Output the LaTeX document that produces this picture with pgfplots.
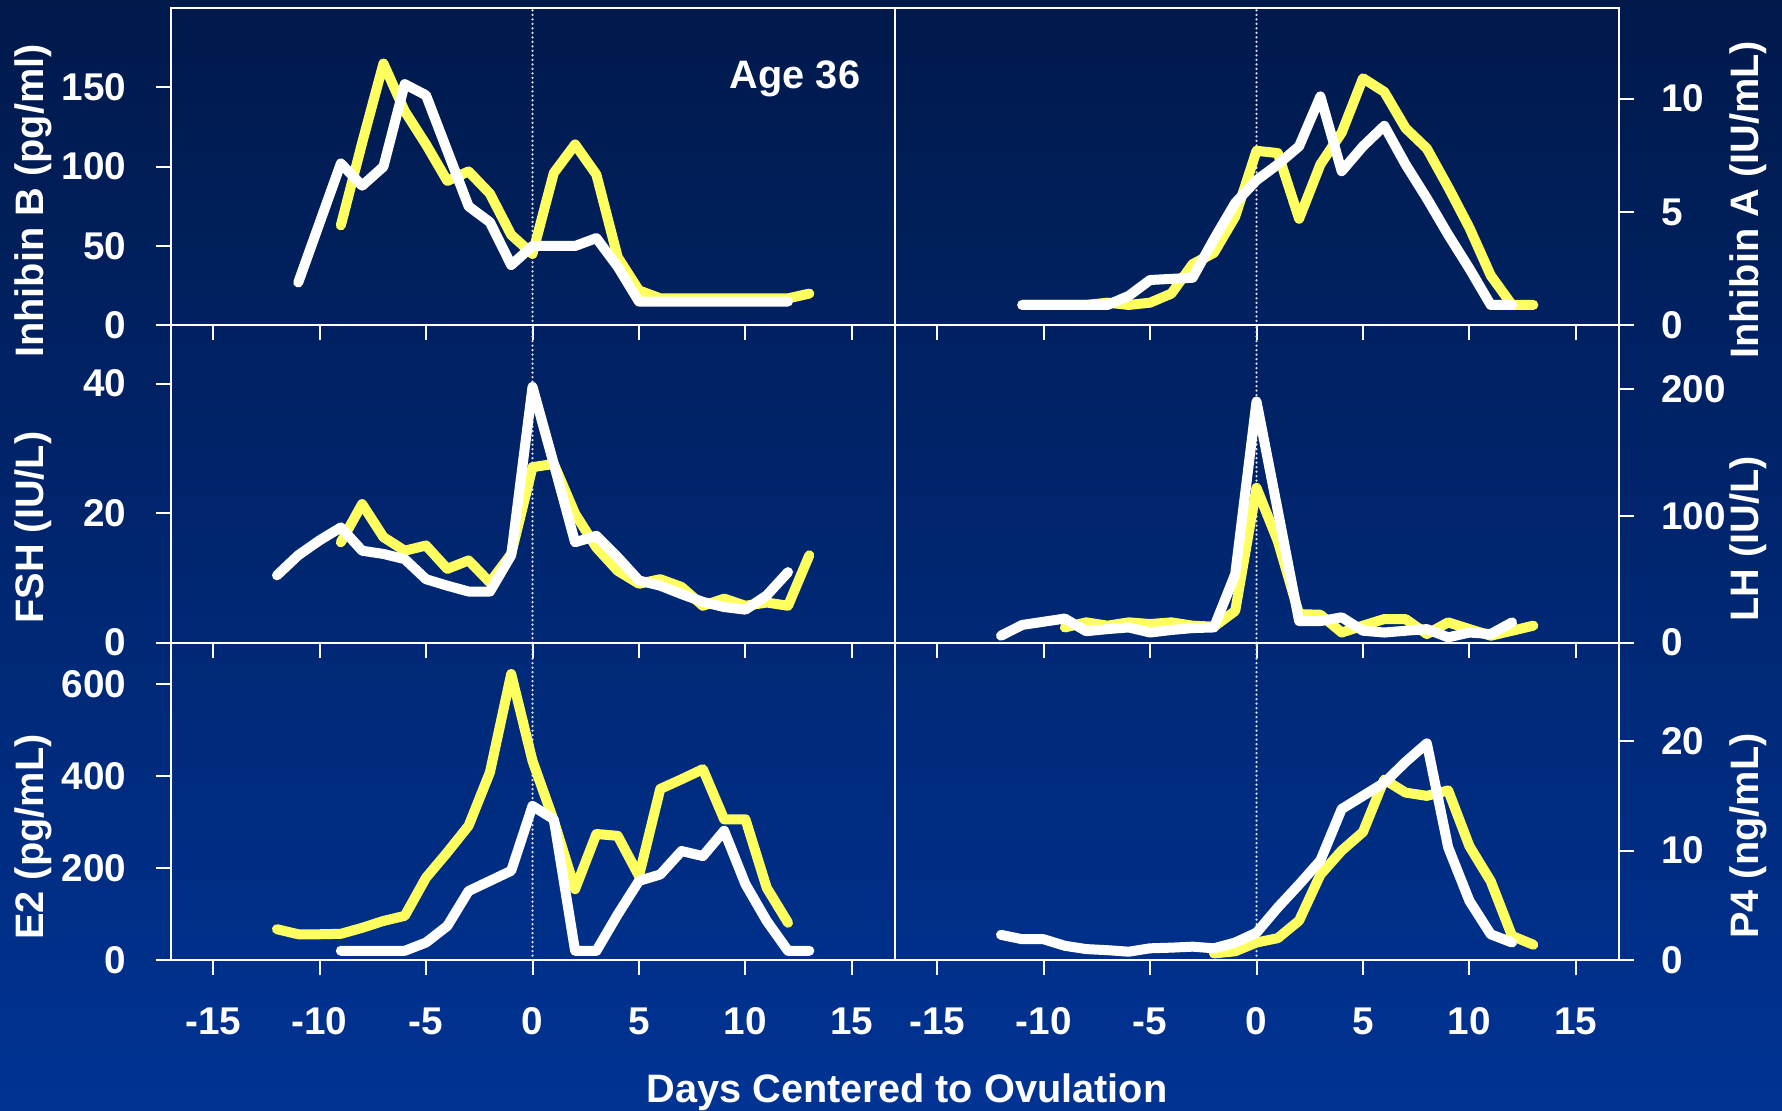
\documentclass[border=0pt]{standalone}
\usepackage{fontspec}
\setmainfont{Liberation Sans}
\usepackage{pgfplots}
\pgfplotsset{compat=1.18}
\definecolor{bgtop}{RGB}{0,25,75}
\definecolor{bgbot}{RGB}{0,51,148}
\definecolor{yel}{RGB}{255,255,96}
\definecolor{dotc}{RGB}{220,226,242}
\pgfplotsset{
  panel/.style={
    scale only axis, width=72.4mm, height=31.733mm, anchor=south west,
    xmin=-17, xmax=17, ymin=0,
    axis line style={white, line width=0.2mm},
    tick style={white, line width=0.2mm},
    major tick length=1.5mm,
    tick align=outside,
    xtick={-15,-10,-5,0,5,10,15},
    xtick pos=bottom,
    xticklabels={},
    tick label style={font=\fontsize{11}{13}\selectfont\bfseries, text=white, inner sep=0pt},
    xticklabel style={anchor=north},
    xticklabel shift=3.2mm,
  },
  lpanel/.style={panel, ytick pos=left, yticklabel style={anchor=east}, yticklabel shift=2.85mm},
  rpanel/.style={panel, ytick pos=right, yticklabel pos=right, yticklabel style={anchor=west}, yticklabel shift=2.7mm},
  yl/.style={yel, line width=1.0mm, line join=round, line cap=round},
  wl/.style={white, line width=1.0mm, line join=round, line cap=round},
  dl/.style={dotc, line width=0.25mm, line cap=round, dash pattern=on 0mm off 0.45mm},
}
\newcommand{\lab}{\fontsize{11.3}{13}\selectfont\bfseries}
\begin{document}
\begin{tikzpicture}
\shade[top color=bgtop, bottom color=bgbot, use as bounding box] (0,0) rectangle (178.2mm,111mm);

% ---------- top left: Inhibin B
\begin{axis}[lpanel, at={(17.05mm,78.467mm)}, ymax=200, ytick={0,50,100,150}, yticklabels={0,50,100,150}]
\addplot[dl] coordinates {(0,0) (0,200)};
\addplot[yl] coordinates {(-9,63) (-8,115) (-7,165) (-6,135) (-5,114) (-4,91) (-3,97) (-2,83) (-1,57) (0,45) (1,96) (2,114) (3,95) (4,43) (5,22) (6,17) (7,17) (8,17) (9,17) (10,17) (11,17) (12,17) (13,20)};
\addplot[wl] coordinates {(-11,27) (-9,102) (-8,88) (-7,100) (-6,152) (-5,145) (-4,110) (-3,75) (-2,65) (-1,38) (0,50) (1,50) (2,50) (3,55) (4,37) (5,15) (6,15) (7,15) (8,15) (9,15) (10,15) (11,15) (12,15)};
\end{axis}

% ---------- top right: Inhibin A
\begin{axis}[rpanel, at={(89.45mm,78.467mm)}, ymax=14, ytick={0,5,10}, yticklabels={0,5,10}]
\addplot[dl] coordinates {(0,0) (0,14)};
\addplot[yl] coordinates {(-11,0.9) (-8,0.9) (-7,1.0) (-6,0.9) (-5,1.0) (-4,1.4) (-3,2.7) (-2,3.2) (-1,4.8) (0,7.7) (1,7.6) (2,4.7) (3,7.1) (4,8.5) (5,10.9) (6,10.3) (7,8.7) (8,7.8) (9,6.1) (10,4.3) (11,2.2) (12,0.9) (13,0.9)};
\addplot[wl] coordinates {(-11,0.9) (-10,0.9) (-9,0.9) (-8,0.9) (-7,0.9) (-6,1.3) (-5,2.0) (-4,2.05) (-3,2.1) (-2,3.8) (-1,5.4) (0,6.4) (1,7.1) (2,7.9) (3,10.1) (4,6.8) (5,7.9) (6,8.8) (7,7.1) (8,5.6) (9,4.0) (10,2.5) (11,0.9) (12,0.9)};
\end{axis}

% ---------- middle left: FSH
\begin{axis}[lpanel, at={(17.05mm,46.733mm)}, ymax=49, ytick={0,20,40}, yticklabels={0,20,40}]
\addplot[dl] coordinates {(0,0) (0,49)};
\addplot[yl] coordinates {(-9,15.5) (-8,21.4) (-7,16.3) (-6,14.2) (-5,15.0) (-4,11.4) (-3,12.7) (-2,9.3) (-1,13.7) (0,27.1) (1,27.6) (2,19.9) (3,14.7) (4,11.1) (5,9.1) (6,9.8) (7,8.6) (8,5.7) (9,6.8) (10,5.7) (11,6.2) (12,5.7) (13,13.5)};
\addplot[wl] coordinates {(-12,10.4) (-11,13.5) (-10,15.8) (-9,17.8) (-8,14.2) (-7,13.7) (-6,12.9) (-5,9.8) (-4,8.8) (-3,7.9) (-2,7.9) (-1,13.5) (0,39.5) (1,27.6) (2,15.5) (3,16.5) (4,13.2) (5,9.6) (6,8.8) (7,7.5) (8,6.3) (9,5.5) (10,5.1) (11,7.3) (12,10.9)};
\end{axis}

% ---------- middle right: LH
\begin{axis}[rpanel, at={(89.45mm,46.733mm)}, ymax=250, ytick={0,100,200}, yticklabels={0,100,200}]
\addplot[dl] coordinates {(0,0) (0,250)};
\addplot[yl] coordinates {(-9,12) (-8,16) (-7,13.4) (-6,16) (-5,14.7) (-4,16) (-3,13.4) (-2,12.6) (-1,25) (0,122) (1,80) (2,22.5) (3,22) (4,8) (5,13.4) (6,18.6) (7,18.6) (8,6.8) (9,16) (10,10.7) (11,5.5) (12,9.4) (13,13.4)};
\addplot[wl] coordinates {(-12,5.5) (-11,14) (-10,16.5) (-9,19) (-8,9) (-7,10.7) (-6,12) (-5,8) (-4,10) (-3,11.5) (-2,12) (-1,54) (0,190) (1,104) (2,17) (3,17) (4,20) (5,9.4) (6,8) (7,9.4) (8,10.7) (9,4.2) (10,8) (11,6.8) (12,16)};
\end{axis}

% ---------- bottom left: E2
\begin{axis}[lpanel, at={(17.05mm,15mm)}, ymax=690, ytick={0,200,400,600}, yticklabels={0,200,400,600}, xticklabels={-15,-10,-5,0,5,10,15}]
\addplot[dl] coordinates {(0,0) (0,690)};
\addplot[yl] coordinates {(-12,67) (-11,56) (-10,56) (-9,57) (-8,70) (-7,85) (-6,96) (-5,179) (-4,234) (-3,292) (-2,408) (-1,622) (0,433) (1,303) (2,154) (3,274) (4,270) (5,183) (6,372) (7,393) (8,415) (9,306) (10,306) (11,157) (12,81)};
\addplot[wl] coordinates {(-9,20) (-8,20) (-7,20) (-6,20) (-5,38) (-4,74) (-3,150) (-2,172) (-1,194) (0,335) (1,306) (2,20) (3,20) (4,99) (5,172) (6,186) (7,237) (8,226) (9,281) (10,165) (11,85) (12,20) (13,20)};
\end{axis}

% ---------- bottom right: P4
\begin{axis}[rpanel, at={(89.45mm,15mm)}, ymax=29, ytick={0,10,20}, yticklabels={0,10,20}, xticklabels={-15,-10,-5,0,5,10,15}]
\addplot[dl] coordinates {(0,0) (0,29)};
\addplot[yl] coordinates {(-2,0.6) (-1,0.8) (0,1.6) (1,2.0) (2,3.6) (3,7.8) (4,10.0) (5,11.7) (6,16.5) (7,15.3) (8,15.0) (9,15.5) (10,10.4) (11,7.2) (12,2.2) (13,1.4)};
\addplot[wl] coordinates {(-12,2.3) (-11,1.9) (-10,1.9) (-9,1.3) (-8,1.0) (-7,0.9) (-6,0.76) (-5,1.07) (-4,1.13) (-3,1.22) (-2,1.07) (-1,1.6) (0,2.5) (1,4.8) (2,6.9) (3,9.1) (4,13.8) (5,15.0) (6,16.2) (7,18.1) (8,19.8) (9,10.3) (10,5.4) (11,2.35) (12,1.6)};
\end{axis}

% ---------- texts
\node[text=white, font=\lab, rotate=90, anchor=base] at (4.35mm,90.9mm) {Inhibin B (pg/ml)};
\node[text=white, font=\lab, rotate=90, anchor=base] at (4.35mm,58.25mm) {FSH (IU/L)};
\node[text=white, font=\lab, rotate=90, anchor=base] at (4.35mm,27.3mm) {E2 (pg/mL)};
\node[text=white, font=\lab, rotate=90, anchor=base] at (175.8mm,91.0mm) {Inhibin A (IU/mL)};
\node[text=white, font=\lab, rotate=90, anchor=base] at (175.8mm,57.1mm) {LH (IU/L)};
\node[text=white, font=\lab, rotate=90, anchor=base] at (175.8mm,27.4mm) {P4 (ng/mL)};
\node[text=white, font=\lab, anchor=base] at (79.5mm,102.2mm) {Age 36};
\node[text=white, font=\lab, anchor=base] at (90.7mm,0.8mm) {Days Centered to Ovulation};
\end{tikzpicture}
\end{document}
